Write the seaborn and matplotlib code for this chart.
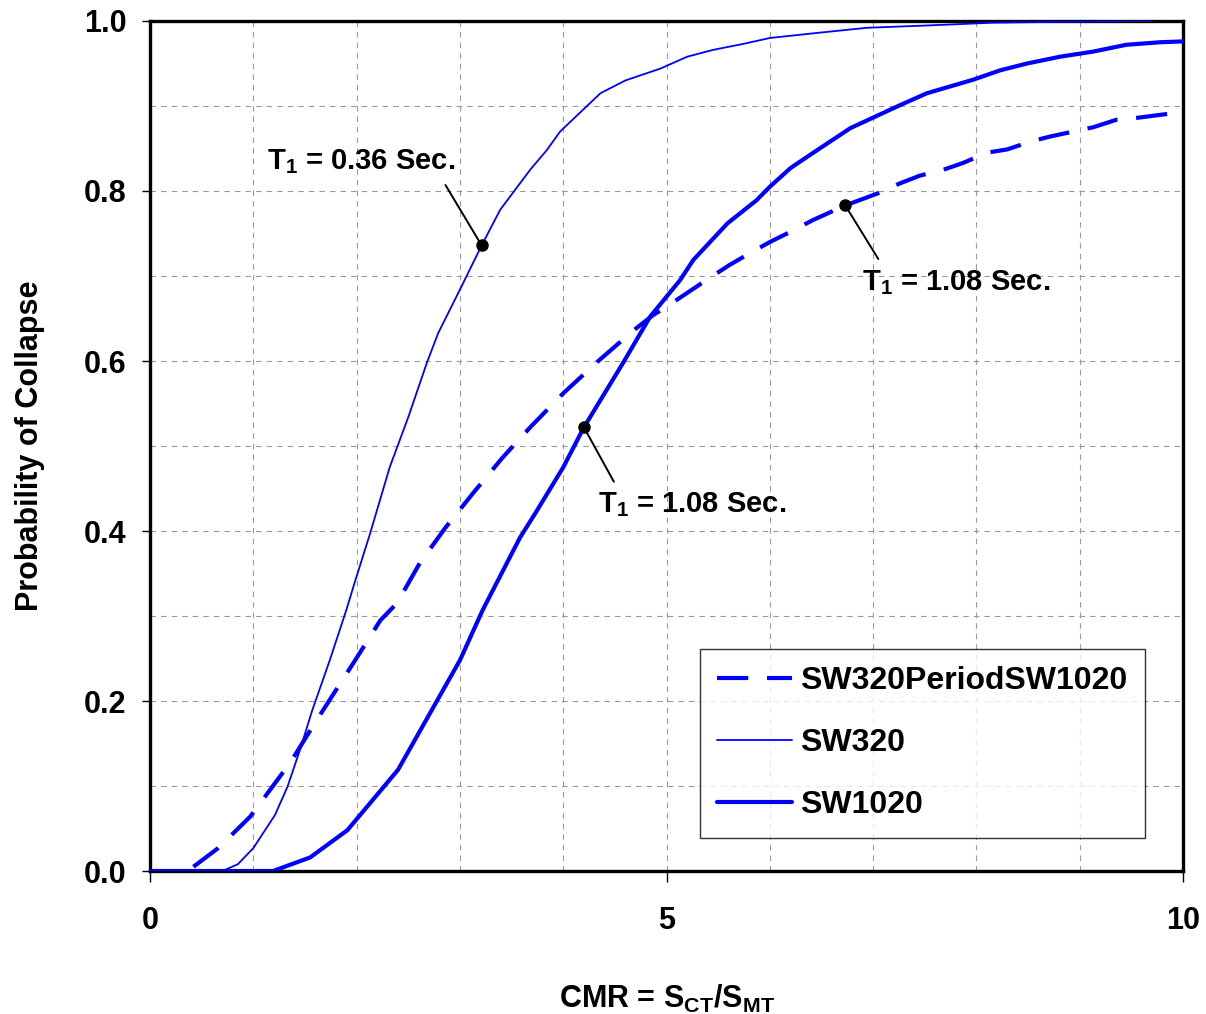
import numpy as np
import pandas as pd
import seaborn as sns
import matplotlib
matplotlib.use("Agg")
import matplotlib.pyplot as plt
from matplotlib.ticker import MultipleLocator, FixedLocator

# Collapse fragility curves (CMR vs. probability of collapse)
cmr_sw320 = [0, 0.7, 0.85, 1.0, 1.21, 1.33, 1.45, 1.57, 1.74, 1.9, 1.98, 2.13, 2.32, 2.5,
             2.68, 2.79, 3.0, 3.21, 3.39, 3.68, 3.84, 3.97, 4.36, 4.6, 4.94, 5.2, 5.45,
             5.74, 6.0, 6.46, 6.94, 7.58, 8.16, 8.8, 9.7]
p_sw320 = [0, 0, 0.008, 0.027, 0.066, 0.099, 0.142, 0.189, 0.248, 0.307, 0.339, 0.397,
           0.475, 0.534, 0.598, 0.633, 0.684, 0.736, 0.778, 0.825, 0.848, 0.87, 0.915,
           0.93, 0.944, 0.958, 0.966, 0.973, 0.98, 0.986, 0.992, 0.995, 0.998, 0.999, 1.0]

cmr_sw1020 = [0, 1.19, 1.55, 1.91, 2.4, 3.0, 3.22, 3.58, 3.73, 4.0, 4.2, 4.58, 4.84, 5.13,
              5.26, 5.59, 5.87, 6.0, 6.2, 6.42, 6.78, 7.26, 7.52, 7.97, 8.23, 8.49, 8.81,
              9.13, 9.45, 9.78, 10.0]
p_sw1020 = [0, 0, 0.016, 0.048, 0.119, 0.248, 0.307, 0.392, 0.421, 0.475, 0.522, 0.598,
            0.652, 0.695, 0.719, 0.762, 0.789, 0.805, 0.827, 0.845, 0.874, 0.901, 0.915,
            0.931, 0.942, 0.95, 0.958, 0.964, 0.972, 0.975, 0.976]

cmr_period = [0.42, 0.66, 0.97, 1.36, 1.6, 1.97, 2.23, 2.39, 2.61, 2.86, 3.13, 3.41, 3.68,
              4.0, 4.33, 4.68, 4.87, 5.05, 5.42, 5.61, 5.78, 6.0, 6.2, 6.42, 6.73, 7.04,
              7.26, 7.45, 7.68, 7.87, 8.1, 8.3, 8.52, 8.71, 8.94, 9.13, 9.36, 9.55, 9.87]
p_period = [0.005, 0.027, 0.064, 0.128, 0.175, 0.245, 0.295, 0.315, 0.362, 0.404, 0.445,
            0.486, 0.522, 0.562, 0.599, 0.636, 0.654, 0.668, 0.698, 0.713, 0.725, 0.74,
            0.752, 0.766, 0.783, 0.797, 0.809, 0.818, 0.825, 0.833, 0.845, 0.849, 0.858,
            0.864, 0.87, 0.875, 0.884, 0.886, 0.891]

series_names = ["SW320PeriodSW1020", "SW320", "SW1020"]
x_ticks = [0, 5, 10]
y_ticks = [0.0, 0.2, 0.4, 0.6, 0.8, 1.0]

sns.set_theme(style="white")
plt.rcParams["font.family"] = ["Liberation Sans", "DejaVu Sans"]
plt.rcParams["font.weight"] = "bold"
plt.rcParams["text.color"] = "black"
plt.rcParams["axes.labelcolor"] = "black"
plt.rcParams["xtick.color"] = "black"
plt.rcParams["ytick.color"] = "black"
plt.rcParams["mathtext.fontset"] = "custom"
plt.rcParams["mathtext.rm"] = "Liberation Sans:bold"
plt.rcParams["mathtext.bf"] = "Liberation Sans:bold"
plt.rcParams["mathtext.it"] = "Liberation Sans:bold"

fig = plt.figure(figsize=(12.06, 10.14), dpi=100)
ax = fig.add_axes([0.1244, 0.141, 0.8566, 0.8383])

blue = "#0000FF"
df_period = pd.DataFrame({"cmr": cmr_period, "p": p_period})
df_320 = pd.DataFrame({"cmr": cmr_sw320, "p": p_sw320})
df_1020 = pd.DataFrame({"cmr": cmr_sw1020, "p": p_sw1020})

sns.lineplot(data=df_period, x="cmr", y="p", ax=ax, color=blue, lw=3.0,
             dashes=False, linestyle=(0, (7.5, 4.5)), label=series_names[0], zorder=3)
sns.lineplot(data=df_320, x="cmr", y="p", ax=ax, color=blue, lw=1.3,
             label=series_names[1], zorder=3)
sns.lineplot(data=df_1020, x="cmr", y="p", ax=ax, color=blue, lw=3.0,
             label=series_names[2], zorder=3)

ax.set_xlim(0, 10)
ax.set_ylim(0, 1)
ax.xaxis.set_major_locator(FixedLocator(x_ticks))
ax.xaxis.set_minor_locator(MultipleLocator(1))
ax.yaxis.set_major_locator(FixedLocator(y_ticks))
ax.yaxis.set_minor_locator(MultipleLocator(0.1))
ax.set_xticklabels([str(t) for t in x_ticks])
ax.set_yticklabels([f"{t:.1f}" for t in y_ticks])

ax.set_axisbelow(True)
ax.grid(True, which="both", color="#9a9a9a", lw=0.8, linestyle=(0, (5, 4.5)))
ax.tick_params(axis="both", which="major", labelsize=22, width=1, color="black",
               labelcolor="black", direction="out")
ax.tick_params(axis="y", which="major", length=6, pad=11, left=True)
ax.tick_params(axis="x", which="major", length=8, pad=17, bottom=True)
ax.tick_params(which="minor", length=0)
for lab in ax.get_xticklabels() + ax.get_yticklabels():
    lab.set_fontweight("bold")

for s in ax.spines.values():
    s.set_visible(True)
    s.set_color("black")
    s.set_linewidth(2.4)

ax.set_xlabel(r"CMR = S$_{\mathrm{CT}}$/S$_{\mathrm{MT}}$", fontsize=22,
              fontweight="bold", labelpad=34)
ax.set_ylabel("Probability of Collapse", fontsize=22, fontweight="bold", labelpad=28)

# Period callouts
callouts = [
    (cmr_sw320[17], p_sw320[17], (2.86, 0.807), (1.13, 0.834), "0.36"),
    (cmr_sw1020[10], p_sw1020[10], (4.49, 0.458), (4.34, 0.431), "1.08"),
    (cmr_period[24], p_period[24], (7.05, 0.72), (6.89, 0.692), "1.08"),
]
for x0, y0, end, tpos, period in callouts:
    ax.annotate("", xy=(x0, y0), xytext=end,
                arrowprops=dict(arrowstyle="-", color="black", lw=1.4,
                                shrinkA=0, shrinkB=0), zorder=4)
    ax.plot([x0], [y0], marker="o", ms=8, color="black", zorder=5)
    ax.text(tpos[0], tpos[1], r"T$_{1}$ = " + period + " Sec.", fontsize=21,
            fontweight="bold", ha="left", va="center", zorder=5)

leg = ax.legend(loc="lower left", bbox_to_anchor=(0.532, 0.039), borderaxespad=0,
                fontsize=23, frameon=True, fancybox=False, shadow=False,
                handlelength=2.35, handletextpad=0.25, labelspacing=1.0,
                borderpad=0.55)
leg.get_frame().set_edgecolor("black")
leg.get_frame().set_linewidth(1.0)
for t in leg.get_texts():
    t.set_fontweight("bold")
    t.set_color("black")

fig.savefig("out.png", dpi=100)
